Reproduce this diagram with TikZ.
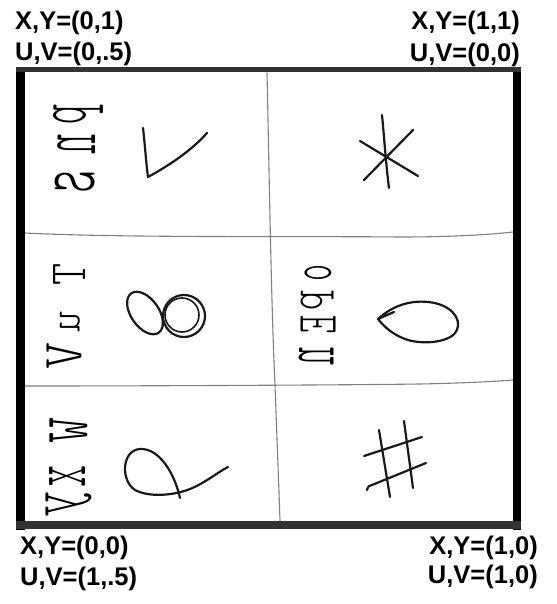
\documentclass[tikz,border=0pt]{standalone}
\usepackage{fontspec}
\setmainfont{Liberation Sans}
\newfontfamily\hwfont{lmmonolt10-regular}[Extension=.otf]
\usepackage{graphicx}
\newcommand\hwg[6]{\node[hw] (#1) at (#2,#3) {\resizebox*{#4pt}{#5pt}{#6}};}
\tikzset{
  lbl/.style={inner sep=0pt, font=\fontsize{25.5}{30}\selectfont\bfseries},
  hw/.style={inner sep=0pt, cm={0,-1,-1,0,(0,0)}, font=\hwfont},
  ink/.style={line width=2.2pt, line cap=round, line join=round, black!90},
  grid/.style={line width=1.1pt, black!50, line cap=round},
  frameL/.style={line width=9pt, black},
  frameT/.style={line width=5.5pt, black!80},
}
\begin{document}
\begin{tikzpicture}[x=1pt,y=-1pt]
\useasboundingbox (0,0) rectangle (556,604);
% corner labels
\node[lbl, anchor=base west] (tl1) at (15,30) {X,Y=(0,1)};
\node[lbl, anchor=base west] (tl2) at (15,61) {U,V=(0,.5)};
\node[lbl, anchor=base east] (tr1) at (520,30) {X,Y=(1,1)};
\node[lbl, anchor=base east] (tr2) at (520,62) {U,V=(0,0)};
\node[lbl, anchor=base west] (bl1) at (20,554) {X,Y=(0,0)};
\node[lbl, anchor=base west] (bl2) at (20,585) {U,V=(1,.5)};
\node[lbl, anchor=base east] (br1) at (538,554) {X,Y=(1,0)};
\node[lbl, anchor=base east] (br2) at (538,583) {U,V=(1,0)};
% grid lines
\draw[grid] (267,73) .. controls (269,160) and (271,300) .. (275,385) .. controls (277,440) and (279,490) .. (280,521);
\draw[grid] (25,233) .. controls (120,238) and (300,236) .. (400,237) .. controls (460,237) and (495,234) .. (513,232);
\draw[grid] (25,386) .. controls (150,386) and (350,385) .. (420,384) .. controls (470,383) and (500,381) .. (513,380);
% frame
\draw[frameL] (20.5,67) -- (20.5,529.5);
\draw[frameL, line width=8pt] (517,67) -- (517,529.5);
\draw[frameT] (16,69.5) -- (521,69.5);
\draw[frameT, line width=8pt] (16,525) -- (521,525);
% handwritten letters: top-left
\hwg{tla}{78}{115}{20}{50}{p}
\hwg{tlb}{76}{145}{20}{38}{n}
\hwg{tlc}{75}{182}{25}{40}{s}
% middle-left
\hwg{mla}{69}{274}{22}{32}{T}
\hwg{mlb}{70}{322}{21}{20}{u}
\hwg{mlc}{64}{356}{27}{35}{V}
% middle-right
\hwg{mra}{318}{273}{17}{27}{o}
\hwg{mrb}{317}{300}{20}{33}{p}
\hwg{mrc}{318}{324}{18}{35}{E}
\hwg{mrd}{316}{356}{18}{35}{n}
% bottom-left
\hwg{bla}{69}{430}{26}{38}{w}
\hwg{blb}{67}{476}{22}{36}{x}
\hwg{blc}{69}{504}{26}{46}{y}
% check mark
\draw[ink] (143,128) .. controls (145,145) and (146,162) .. (148,177) .. controls (170,165) and (192,150) .. (207,133);
% asterisk
\draw[ink] (382,115) .. controls (384,135) and (386,165) .. (389,188);
\draw[ink] (413,130) -- (364,180);
\draw[ink] (360,141) -- (418,176);
% eight
\draw[ink] (145,313) ellipse[x radius=24, y radius=14, rotate=-55];
\draw[ink] (184,316) circle[radius=21];
\draw[ink, line width=1.6pt] (182,315) circle[radius=17];
% teardrop
\draw[ink] (378,319) .. controls (392,306) and (410,300) .. (428,302) .. controls (450,304) and (462,318) .. (457,330) .. controls (452,342) and (425,345) .. (408,340) .. controls (395,336) and (385,328) .. (378,319) -- (394,312);
% loop with tail
\draw[ink] (180,498) .. controls (175,475) and (160,448) .. (140,449) .. controls (122,450) and (120,480) .. (135,490) .. controls (150,498) and (175,495) .. (190,489) .. controls (205,483) and (218,472) .. (228,467);
% hash
\draw[ink] (379,430) -- (390,497);
\draw[ink] (404,421) -- (413,488);
\draw[ink] (364,456) -- (422,437);
\draw[ink] (367,490) .. controls (368,486) and (370,485) .. (372,485) -- (426,463);
\end{tikzpicture}
\end{document}
